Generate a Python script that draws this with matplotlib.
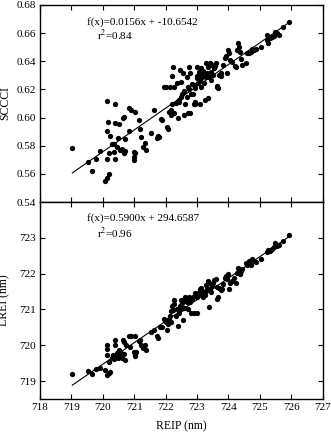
import numpy as np
import matplotlib
matplotlib.use("Agg")
import matplotlib.pyplot as plt

# ---------------- data ----------------
reip_top = [719.03, 719.53, 719.66, 719.77, 719.92, 720.08, 720.12, 720.21, 720.14, 720.15,
            720.14, 720.12, 720.19, 720.24, 720.28, 720.35, 720.35, 720.38, 720.38, 720.40,
            720.46, 720.48, 720.51, 720.56, 720.62, 720.65, 720.67, 720.67, 720.70, 720.72,
            720.83, 720.83, 720.90, 720.99, 720.99, 721.04, 721.04, 720.99, 721.15, 721.18,
            721.20, 721.28, 721.34, 721.38, 721.52, 721.62, 721.73, 721.75, 721.78, 721.86,
            721.89, 721.94, 722.00, 722.05, 722.07, 722.10, 722.13, 722.16, 722.18, 722.21,
            722.21, 722.23, 722.26, 722.28, 722.32, 722.37, 722.39, 722.42, 722.44, 722.45,
            722.48, 722.48, 722.53, 722.56, 722.58, 722.60, 722.63, 722.67, 722.69, 722.71,
            722.72, 722.74, 722.75, 722.77, 722.79, 722.82, 722.85, 722.88, 722.90, 722.90,
            722.92, 722.95, 722.95, 722.99, 723.01, 723.01, 723.03, 723.06, 723.09, 723.09,
            723.11, 723.13, 723.14, 723.17, 723.20, 723.22, 723.24, 723.24, 723.27, 723.30,
            723.33, 723.35, 723.36, 723.38, 723.41, 723.43, 723.45, 723.48, 723.51, 723.54,
            723.56, 723.59, 723.62, 723.64, 723.67, 723.70, 723.75, 723.77, 723.84, 723.88,
            723.91, 723.96, 723.98, 724.02, 724.05, 724.12, 724.20, 724.23, 724.28, 724.30,
            724.33, 724.37, 724.41, 724.44, 724.55, 724.60, 724.65, 724.73, 724.76, 724.81,
            724.87, 725.03, 725.24, 725.24, 725.26, 725.32, 725.40, 725.45, 725.47, 725.54,
            725.61, 725.75, 725.93]
sccci = [0.5784, 0.5685, 0.5621, 0.5708, 0.5763, 0.5547, 0.5571, 0.5602, 0.6117, 0.5972,
         0.5903, 0.5708, 0.5749, 0.5867, 0.5810, 0.5815, 0.5756, 0.6100, 0.5962, 0.5708,
         0.5791, 0.5858, 0.5953, 0.5772, 0.5780, 0.6000, 0.6005, 0.5749, 0.5851, 0.5763,
         0.6071, 0.5905, 0.6057, 0.5720, 0.5756, 0.6041, 0.5749, 0.5701, 0.5986, 0.5922,
         0.5863, 0.5791, 0.5820, 0.5768, 0.5891, 0.6057, 0.5858, 0.5867, 0.5863, 0.5993,
         0.5981, 0.6219, 0.6214, 0.5934, 0.5922, 0.6041, 0.6214, 0.6057, 0.6017, 0.6295,
         0.6095, 0.6356, 0.6214, 0.6033, 0.6105, 0.6247, 0.6000, 0.6112, 0.6124, 0.6337,
         0.6254, 0.6147, 0.6166, 0.6318, 0.6017, 0.6190, 0.6100, 0.6147, 0.6285, 0.6219,
         0.6033, 0.6200, 0.6356, 0.6033, 0.6314, 0.6166, 0.6242, 0.6166, 0.6100, 0.6230,
         0.6112, 0.6207, 0.6100, 0.6295, 0.6356, 0.6278, 0.6247, 0.6325, 0.6100, 0.6266,
         0.6309, 0.6349, 0.6219, 0.6285, 0.6333, 0.6247, 0.6124, 0.6295, 0.6385, 0.6290,
         0.6318, 0.6361, 0.6136, 0.6285, 0.6389, 0.6325, 0.6266, 0.6373, 0.6302, 0.6349,
         0.6366, 0.6385, 0.6223, 0.6214, 0.6207, 0.6302, 0.6295, 0.6314, 0.6373, 0.6420,
         0.6437, 0.6314, 0.6480, 0.6461, 0.6408, 0.6397, 0.6366, 0.6361, 0.6480, 0.6532,
         0.6503, 0.6468, 0.6413, 0.6373, 0.6385, 0.6456, 0.6461, 0.6468, 0.6484, 0.6480,
         0.6484, 0.6499, 0.6586, 0.6551, 0.6532, 0.6563, 0.6570, 0.6579, 0.6610, 0.6598,
         0.6586, 0.6641, 0.6681]

reip_bot = [719.03, 719.53, 719.66, 719.77, 719.92, 720.08, 720.14, 720.21, 720.24, 720.14,
            720.14, 720.14, 720.19, 720.28, 720.33, 720.35, 720.38, 720.38, 720.40, 720.46,
            720.48, 720.51, 720.56, 720.58, 720.62, 720.65, 720.67, 720.69, 720.72, 720.75,
            720.83, 720.86, 720.90, 720.99, 721.01, 721.04, 721.04, 721.07, 721.15, 721.18,
            721.20, 721.28, 721.34, 721.38, 721.52, 721.62, 721.73, 721.75, 721.82, 721.89,
            721.94, 722.00, 722.05, 722.07, 722.10, 722.13, 722.16, 722.18, 722.21, 722.24,
            722.26, 722.28, 722.32, 722.37, 722.39, 722.42, 722.45, 722.48, 722.50, 722.53,
            722.56, 722.58, 722.60, 722.63, 722.67, 722.69, 722.71, 722.74, 722.77, 722.79,
            722.82, 722.85, 722.88, 722.90, 722.92, 722.95, 722.99, 723.01, 723.03, 723.06,
            723.09, 723.11, 723.13, 723.17, 723.20, 723.22, 723.24, 723.27, 723.30, 723.33,
            723.35, 723.38, 723.41, 723.43, 723.45, 723.48, 723.51, 723.54, 723.59, 723.62,
            723.64, 723.67, 723.70, 723.75, 723.80, 723.84, 723.88, 723.91, 723.96, 723.98,
            724.02, 724.05, 724.12, 724.18, 724.23, 724.28, 724.30, 724.33, 724.37, 724.41,
            724.44, 724.55, 724.60, 724.65, 724.73, 724.76, 724.81, 724.87, 725.03, 725.24,
            725.26, 725.32, 725.40, 725.45, 725.47, 725.54, 725.61, 725.75, 725.93]
lrei = [719.20, 719.28, 719.20, 719.34, 719.37, 719.30, 719.17, 719.23, 719.26, 720.02,
        719.90, 719.72, 719.53, 719.65, 719.74, 719.62, 720.14, 720.02, 719.70, 719.79,
        719.65, 719.87, 719.72, 719.79, 719.65, 720.14, 719.77, 720.09, 719.60, 720.02,
        720.26, 719.96, 720.26, 719.81, 719.72, 720.26, 719.70, 719.81, 720.12, 720.14,
        720.02, 719.93, 720.02, 719.88, 720.37, 720.42, 720.27, 720.21, 720.52, 720.52,
        720.72, 720.65, 720.44, 720.58, 720.74, 720.83, 720.95, 720.65, 721.09, 720.98,
        721.26, 721.14, 720.83, 721.00, 720.55, 720.89, 721.09, 721.26, 721.00, 721.17,
        720.70, 721.05, 721.26, 721.35, 721.33, 721.20, 721.00, 721.35, 721.20, 721.30,
        720.89, 721.28, 721.35, 720.91, 721.39, 721.45, 720.91, 721.35, 721.47, 721.42,
        721.56, 721.47, 721.60, 721.48, 721.35, 721.48, 721.39, 721.67, 721.51, 721.56,
        721.79, 721.07, 721.56, 721.70, 721.48, 721.65, 721.74, 721.82, 721.84, 721.63,
        721.28, 721.35, 721.60, 721.54, 721.56, 721.70, 721.88, 721.93, 721.84, 721.98,
        721.56, 721.73, 721.79, 721.88, 721.73, 722.02, 722.16, 722.12, 721.98, 722.07,
        722.12, 722.30, 722.23, 722.35, 722.23, 722.40, 722.35, 722.32, 722.41, 722.60,
        722.66, 722.63, 722.69, 722.75, 722.86, 722.77, 722.81, 722.91, 723.09]

eq_top = "f(x)=0.0156x + -10.6542"
r2_top = "0.84"
eq_bot = "f(x)=0.5900x + 294.6587"
r2_bot = "0.96"

xticks = list(range(718, 728))
yticks_top = [0.54, 0.56, 0.58, 0.60, 0.62, 0.64, 0.66, 0.68]
yticks_bot = [719, 720, 721, 722, 723]

# ---------------- figure ----------------
plt.rcParams['font.family'] = ['Liberation Serif', 'DejaVu Serif']
plt.rcParams['mathtext.fontset'] = 'stix'
FS = 8

W, H = 331, 434
fig = plt.figure(figsize=(W / 100, H / 100), dpi=100)
L, R = 40 / W, 322.7 / W
ax1 = fig.add_axes([L, 1 - 202 / H, R - L, (202 - 5) / H])
ax2 = fig.add_axes([L, 1 - 399 / H, R - L, (399 - 202) / H])


def style(ax):
    ax.tick_params(direction='in', top=True, right=True, length=3.5, width=0.8,
                   labelsize=FS, pad=3)
    for s in ax.spines.values():
        s.set_linewidth(1.0)


def draw(ax, x, y):
    x = np.asarray(x)
    y = np.asarray(y)
    ax.plot(x, y, 'o', color='black', ms=3.8, mew=0)
    k, b = np.polyfit(x, y, 1)
    xs = np.array([x.min(), x.max()])
    ax.plot(xs, k * xs + b, color='black', lw=0.8)


draw(ax1, reip_top, sccci)
ax1.set_xlim(718, 727)
ax1.set_ylim(0.54, 0.68)
ax1.set_xticks(xticks)
ax1.set_xticklabels([])
ax1.set_yticks(yticks_top)
ax1.set_yticklabels([f"{v:.2f}" for v in yticks_top])
ax1.set_ylabel("SCCCI", fontsize=FS + 0.5, labelpad=4)
style(ax1)
ax1.text(0.166, 0.915, eq_top, transform=ax1.transAxes, fontsize=FS, va='center')
ax1.text(0.20, 0.845, "r$^2$=" + r2_top, transform=ax1.transAxes, fontsize=FS, va='center')

draw(ax2, reip_bot, lrei)
ax2.set_xlim(718, 727)
ax2.set_ylim(718.5, 724.0)
ax2.set_xticks(xticks)
ax2.set_yticks(yticks_bot)
ax2.set_ylabel("LREI (nm)", fontsize=FS + 0.5, labelpad=6)
ax2.set_xlabel("REIP (nm)", fontsize=FS + 0.5, labelpad=6)
style(ax2)
ax2.text(0.166, 0.92, eq_bot, transform=ax2.transAxes, fontsize=FS, va='center')
ax2.text(0.20, 0.84, "r$^2$=" + r2_bot, transform=ax2.transAxes, fontsize=FS, va='center')

fig.savefig("out.png", dpi=100)
